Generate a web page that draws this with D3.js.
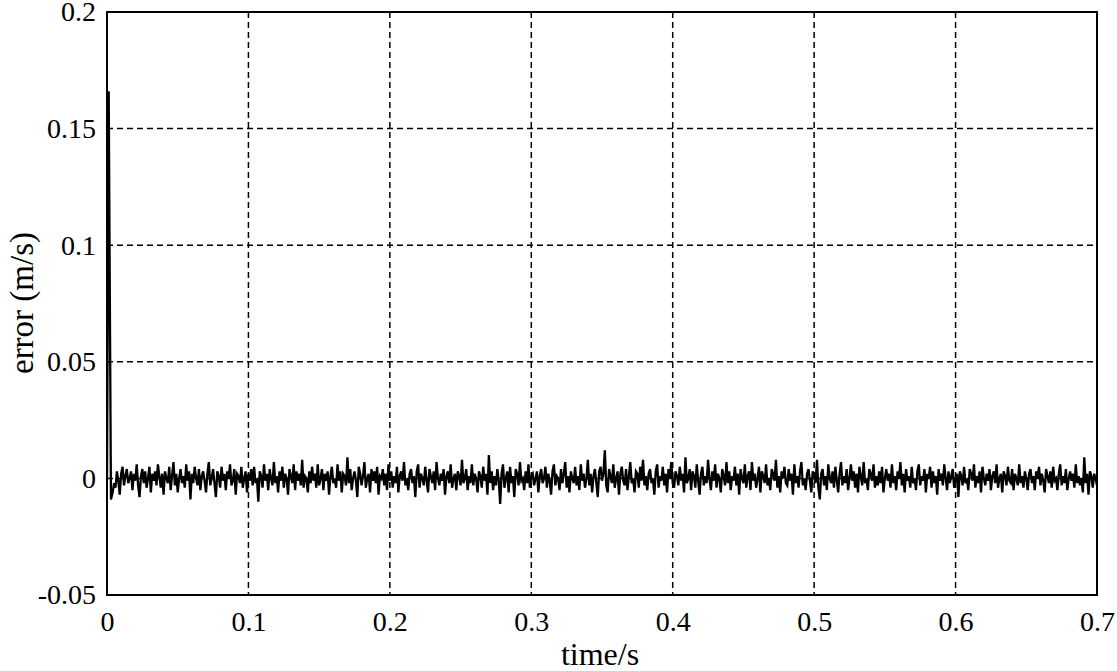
<!DOCTYPE html>
<html>
<head>
<meta charset="utf-8">
<script src="https://cdn.jsdelivr.net/npm/d3@7"></script>
<style>
  body { margin: 0; background: #fff; }
  svg text { font-family: "Liberation Serif", "Times New Roman", serif; fill: #000; }
</style>
</head>
<body>
<svg width="1117" height="671"></svg>
<script>
// tick values
var xTicks = [0, 0.1, 0.2, 0.3, 0.4, 0.5, 0.6, 0.7];
var yTicks = [-0.05, 0, 0.05, 0.1, 0.15, 0.2];

// start-up transient [t, error]
var transient = [[0, 0], [0.0012, 0.166], [0.0028, -0.009]];

// steady-state error, one sample per ms from t = 0.004 s, in mm/s
var t0 = 0.004, dt = 0.001;
var noise = [
  -6,-2,-4,3,-1,-7,2,5,-3,1,4,-2,0,3,-5,2,-1,6,-3,-8,1,4,-2,3,-4,0,5,-6,2,-1,3,-3,6,1,-4,2,-7,3,0,-2,5,-5,1,7,-3,2,-6,0,4,-2,
  1,-4,6,-1,3,-9,2,-2,5,0,-3,4,-5,1,3,-1,-6,2,7,-3,0,4,-2,-8,3,1,-4,5,-1,2,-5,3,0,6,-3,-1,4,-7,2,1,-2,5,-4,0,3,-6,2,-1,4,-3,
  5,-2,0,-10,3,1,-4,6,-1,2,-5,4,0,-3,7,-2,1,-6,3,-1,5,-4,2,0,-7,4,1,-2,6,-5,3,-1,2,-3,8,-4,1,0,-6,3,-2,5,-1,2,-4,6,-3,0,4,-5,
  2,-1,3,-7,1,5,-2,0,-4,6,-1,3,-6,2,1,-3,9,-2,4,-5,0,3,-1,-8,5,2,-3,1,7,-4,0,2,-6,4,-1,3,-2,5,-7,1,0,4,-3,2,-5,6,-1,3,-4,1,
  -2,5,-6,1,3,-1,7,-3,0,-5,2,4,-2,1,-8,3,6,-4,2,0,-3,5,-1,-6,4,1,-2,3,-5,7,0,-3,2,-1,4,-7,1,3,-2,6,-4,0,2,-5,3,1,-3,8,-2,0,
  4,-5,1,-2,6,-3,2,0,-6,3,1,-4,5,-1,2,-7,10,-2,3,-5,1,-3,4,-1,-11,2,6,-4,0,3,-6,5,-2,1,-8,4,2,-3,7,-1,0,-5,3,-2,6,-4,1,2,-3,0,
  3,-6,1,4,-2,0,5,-4,2,-1,-7,3,6,-3,1,0,-5,4,-2,2,7,-4,1,-6,3,0,-2,5,-3,1,-5,6,-1,2,-4,0,8,-3,2,-6,1,4,-2,-8,3,5,-1,2,12,-3,
  -6,4,1,-2,6,-4,0,3,-7,2,5,-1,-3,4,-5,1,7,-2,0,-6,3,2,-4,5,-1,8,-3,1,-5,2,4,-2,0,-7,3,6,-4,1,-1,5,-3,2,-6,4,0,7,-2,-4,3,1,
  -3,5,-1,2,-6,9,-2,0,4,-5,3,1,-4,6,-1,-7,2,5,-3,1,-2,8,0,-5,3,-1,6,-4,2,0,-6,4,1,-3,7,-2,3,-5,1,-1,5,-3,2,-7,4,0,-2,6,-4,1,
  3,-5,7,-1,2,-4,0,5,-6,3,1,-2,6,-3,0,-5,4,2,-1,8,-4,1,-6,3,0,5,-2,-3,4,-1,2,-7,6,-2,1,-4,3,7,-3,0,-5,2,4,-1,-6,3,1,-2,8,-4,
  -9,2,4,-3,1,-5,6,0,-2,3,-4,5,-1,-6,2,7,-3,1,-2,4,-5,0,6,-1,3,-4,2,-6,5,1,-3,7,-2,0,-5,4,2,-1,6,-4,1,-3,3,-2,5,-6,0,4,-1,2,
  -4,6,-2,1,-5,3,0,7,-3,2,-6,4,-1,1,-4,5,-2,0,-5,3,6,-3,1,-1,4,-6,2,0,5,-4,3,-2,1,-7,4,-1,2,-3,6,0,-5,3,-2,1,4,-4,0,2,-8,3,
  1,-3,5,-2,0,-5,4,2,-1,6,-4,1,-2,3,-6,5,0,-3,2,-1,4,-5,1,3,-2,6,-4,0,2,-6,3,1,-3,5,-1,-2,4,-5,2,0,-3,6,-2,1,-4,3,0,-5,2,4,
  -2,1,-5,3,0,5,-3,2,-1,-6,4,1,-2,3,-4,5,-1,0,-5,2,6,-3,1,-2,4,-5,0,3,-1,2,-4,6,-2,1,-3,0,-6,9,-2,2,-7,3,1,-4,2,0,-3,1,0,-2
];

var svg = d3.select("svg");
var margin = {left: 107, right: 20, top: 12, bottom: 76};
var width = 1117 - margin.left - margin.right,
    height = 671 - margin.top - margin.bottom;

var x = d3.scaleLinear().domain([0, 0.7]).range([0, width]);
var y = d3.scaleLinear().domain([-0.05, 0.2]).range([height, 0]);

var g = svg.append("g").attr("transform", "translate(" + margin.left + "," + margin.top + ")");

// dashed grid
g.append("g").selectAll("line")
  .data(xTicks.slice(1, -1))
  .enter().append("line")
    .attr("x1", function(d) { return x(d); })
    .attr("x2", function(d) { return x(d); })
    .attr("y1", 0).attr("y2", height)
    .attr("stroke", "#000").attr("stroke-width", 1.5)
    .attr("stroke-dasharray", "6,4");

g.append("g").selectAll("line")
  .data(yTicks.slice(1, -1))
  .enter().append("line")
    .attr("y1", function(d) { return y(d); })
    .attr("y2", function(d) { return y(d); })
    .attr("x1", 0).attr("x2", width)
    .attr("stroke", "#000").attr("stroke-width", 1.5)
    .attr("stroke-dasharray", "6,4");

// data
var points = transient.concat(noise.map(function(v, i) { return [t0 + i * dt, v / 1000]; }));

// clip is in the g's coordinates
g.append("clipPath").attr("id", "clip")
  .append("rect").attr("x", 0).attr("y", 0).attr("width", width).attr("height", height);

var line = d3.line()
  .x(function(d) { return x(d[0]); })
  .y(function(d) { return y(d[1]); });

g.append("path")
  .datum(points)
  .attr("clip-path", "url(#clip)")
  .attr("fill", "none")
  .attr("stroke", "#000")
  .attr("stroke-width", 2.3)
  .attr("stroke-linejoin", "miter")
  .attr("d", line);

// frame
g.append("rect")
  .attr("width", width).attr("height", height)
  .attr("fill", "none").attr("stroke", "#000").attr("stroke-width", 2);

// tick labels
var fmt = function(d) { return String(d); };
var xAxis = g.append("g")
  .attr("transform", "translate(0," + height + ")")
  .call(d3.axisBottom(x).tickValues(xTicks).tickSize(0).tickPadding(16).tickFormat(fmt));
var yAxis = g.append("g")
  .call(d3.axisLeft(y).tickValues(yTicks).tickSize(0).tickPadding(11).tickFormat(fmt));
[xAxis, yAxis].forEach(function(a) {
  a.attr("font-family", null).attr("font-size", null);
  a.select(".domain").remove();
  a.selectAll("text").attr("font-size", 28).attr("fill", "#000");
});

// axis titles
svg.append("text")
  .attr("x", 600).attr("y", 665)
  .attr("text-anchor", "middle").attr("font-size", 32)
  .text("time/s");

svg.append("text")
  .attr("transform", "translate(33,303) rotate(-90)")
  .attr("text-anchor", "middle").attr("font-size", 33)
  .text("error (m/s)");
</script>
</body>
</html>
